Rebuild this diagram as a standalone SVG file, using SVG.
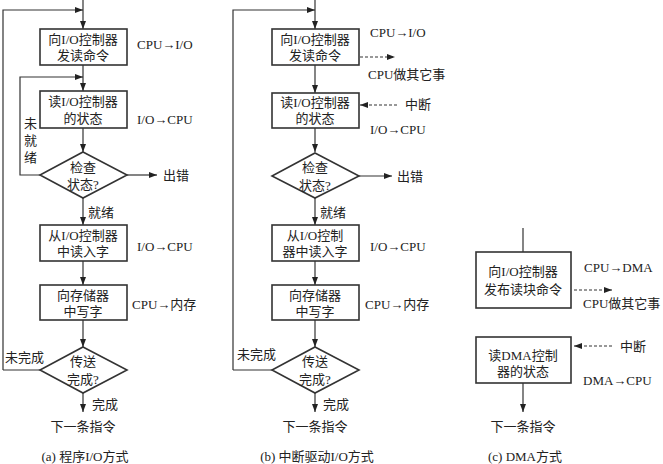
<svg xmlns="http://www.w3.org/2000/svg" width="663" height="464" viewBox="0 0 663 464">
<defs>
<marker id="ar" markerWidth="8" markerHeight="6" refX="8" refY="3" orient="auto" markerUnits="userSpaceOnUse"><path d="M0,0 L8,3 L0,6 z" fill="#222"/></marker>
<style>
.b{fill:#fff;stroke:#333;stroke-width:1.6}
.l{fill:none;stroke:#333;stroke-width:1.2}
.d{fill:none;stroke:#333;stroke-width:1.2;stroke-dasharray:3,2}
text{font-family:"Liberation Serif","Noto Sans CJK SC",serif;font-size:13px;fill:#222}
.c{text-anchor:middle}
</style>
</defs>
<rect width="663" height="464" fill="#fff"/>
<g id="connectors">
<!-- a -->
<path class="l" d="M83,0 V29" marker-end="url(#ar)"/>
<path class="l" d="M3,370 V10 H83" marker-end="url(#ar)"/>
<path class="l" d="M83,65 V91" marker-end="url(#ar)"/>
<path class="l" d="M40,175 H20 V77 H83" marker-end="url(#ar)"/>
<path class="l" d="M83,128 V152" marker-end="url(#ar)"/>
<path class="l" d="M127,175 H157" marker-end="url(#ar)"/>
<path class="l" d="M83,198 V225" marker-end="url(#ar)"/>
<path class="l" d="M83,261 V285" marker-end="url(#ar)"/>
<path class="l" d="M83,320 V347" marker-end="url(#ar)"/>
<path class="l" d="M40,370 H3"/>
<path class="l" d="M83,393 V412" marker-end="url(#ar)"/>
<!-- b -->
<path class="l" d="M315,0 V29" marker-end="url(#ar)"/>
<path class="l" d="M233,370 V10 H315" marker-end="url(#ar)"/>
<path class="l" d="M315,65 V93" marker-end="url(#ar)"/>
<path class="d" d="M360,57 H395" marker-end="url(#ar)"/>
<path class="d" d="M397,105 H360" marker-end="url(#ar)"/>
<path class="l" d="M315,128 V152" marker-end="url(#ar)"/>
<path class="l" d="M359,176 H392" marker-end="url(#ar)"/>
<path class="l" d="M315,198 V225" marker-end="url(#ar)"/>
<path class="l" d="M315,261 V285" marker-end="url(#ar)"/>
<path class="l" d="M315,320 V347" marker-end="url(#ar)"/>
<path class="l" d="M272,370 H233"/>
<path class="l" d="M315,393 V412" marker-end="url(#ar)"/>
<!-- c -->
<path class="l" d="M523,228 V252"/>
<path class="d" d="M574,290 H612" marker-end="url(#ar)"/>
<path class="d" d="M612,346 H574" marker-end="url(#ar)"/>
<path class="l" d="M523,383 V412" marker-end="url(#ar)"/>
</g>
<g id="a1"><rect class="b" x="40" y="29" width="87" height="36"/><text class="c" x="83" y="44">向I/O控制器</text><text class="c" x="83" y="60">发读命令</text></g>
<g id="a2"><rect class="b" x="40" y="91" width="87" height="37"/><text class="c" x="83" y="106">读I/O控制器</text><text class="c" x="83" y="123">的状态</text></g>
<g id="a3"><polygon class="b" points="83,152 127,175 83,198 40,175"/><text class="c" x="83" y="172">检查</text><text class="c" x="83" y="189">状态?</text></g>
<g id="a4"><rect class="b" x="40" y="225" width="87" height="36"/><text class="c" x="83" y="240">从I/O控制器</text><text class="c" x="83" y="256">中读入字</text></g>
<g id="a5"><rect class="b" x="40" y="285" width="87" height="35"/><text class="c" x="83" y="300">向存储器</text><text class="c" x="83" y="316">中写字</text></g>
<g id="a6"><polygon class="b" points="83,347 127,370 83,393 40,370"/><text class="c" x="83" y="366">传送</text><text class="c" x="83" y="384">完成?</text></g>
<g id="alabels">
<text x="137" y="49">CPU→I/O</text>
<text x="137" y="124">I/O→CPU</text>
<text x="24" y="128">未</text><text x="24" y="145">就</text><text x="24" y="162">绪</text>
<text x="163" y="180">出错</text>
<text x="88" y="217">就绪</text>
<text x="137" y="251">I/O→CPU</text>
<text x="132" y="309">CPU→内存</text>
<text x="5" y="362">未完成</text>
<text x="92" y="409">完成</text>
<text class="c" x="83" y="431">下一条指令</text>
<text class="c" x="85" y="461">(a) 程序I/O方式</text>
</g>
<g id="b1"><rect class="b" x="272" y="29" width="87" height="36"/><text class="c" x="315" y="44">向I/O控制器</text><text class="c" x="315" y="60">发读命令</text></g>
<g id="b2"><rect class="b" x="272" y="93" width="87" height="35"/><text class="c" x="315" y="107">读I/O控制器</text><text class="c" x="315" y="123">的状态</text></g>
<g id="b3"><polygon class="b" points="315,153 359,176 315,198 272,176"/><text class="c" x="315" y="172">检查</text><text class="c" x="315" y="190">状态?</text></g>
<g id="b4"><rect class="b" x="272" y="225" width="87" height="36"/><text class="c" x="315" y="240">从I/O控制</text><text class="c" x="315" y="256">器中读入字</text></g>
<g id="b5"><rect class="b" x="272" y="285" width="87" height="35"/><text class="c" x="315" y="300">向存储器</text><text class="c" x="315" y="316">中写字</text></g>
<g id="b6"><polygon class="b" points="315,347 359,370 315,393 272,370"/><text class="c" x="315" y="366">传送</text><text class="c" x="315" y="384">完成?</text></g>
<g id="blabels">
<text x="370" y="37">CPU→I/O</text>
<text x="368" y="79">CPU做其它事</text>
<text x="405" y="109">中断</text>
<text x="370" y="134">I/O→CPU</text>
<text x="397" y="181">出错</text>
<text x="320" y="217">就绪</text>
<text x="370" y="251">I/O→CPU</text>
<text x="365" y="309">CPU→内存</text>
<text x="237" y="359">未完成</text>
<text x="323" y="409">完成</text>
<text class="c" x="315" y="431">下一条指令</text>
<text class="c" x="317" y="461">(b) 中断驱动I/O方式</text>
</g>
<g id="c1"><rect class="b" x="476" y="252" width="95" height="56"/><text class="c" x="523" y="276">向I/O控制器</text><text class="c" x="523" y="294">发布读块命令</text></g>
<g id="c2"><rect class="b" x="476" y="337" width="95" height="46"/><text class="c" x="523" y="360">读DMA控制</text><text class="c" x="523" y="376">器的状态</text></g>
<g id="clabels">
<text x="584" y="272">CPU→DMA</text>
<text x="583" y="308">CPU做其它事</text>
<text x="620" y="351">中断</text>
<text x="583" y="385">DMA→CPU</text>
<text class="c" x="523" y="431">下一条指令</text>
<text class="c" x="525" y="461">(c) DMA方式</text>
</g>
</svg>
